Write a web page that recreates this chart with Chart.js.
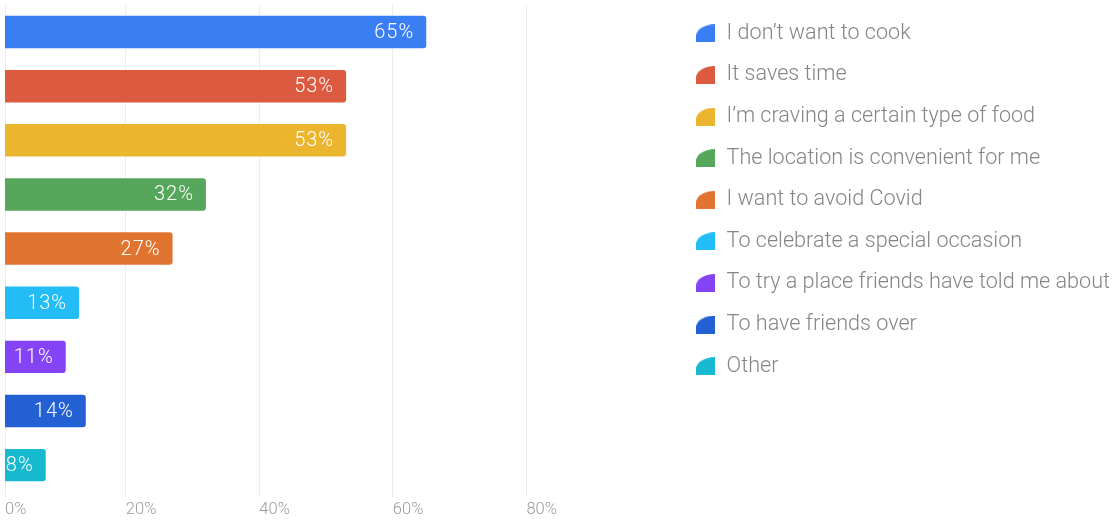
<!DOCTYPE html>
<html>
<head>
<meta charset="utf-8">
<script src="https://cdn.jsdelivr.net/npm/chart.js@4.4.1/dist/chart.umd.min.js"></script>
<style>
  html, body { margin: 0; padding: 0; background: #fff; }
</style>
</head>
<body>
<canvas id="reasonsChart" width="1114" height="523"></canvas>
<script>
const reasons = [
    'I don\u2019t want to cook',
    'It saves time',
    'I\u2019m craving a certain type of food',
    'The location is convenient for me',
    'I want to avoid Covid',
    'To celebrate a special occasion',
    'To try a place friends have told me about',
    'To have friends over',
    'Other'
];
const shares = [65, 53, 53, 32, 27, 13, 11, 14, 8];
const barColors = ['#3a7ef3', '#dc5a40', '#ecb52e', '#56a65b', '#e27432', '#22bdf6', '#8444f6', '#2260d4', '#17b9d0'];
const gridSteps = [0, 20, 40, 60, 80];

// the axis starts a little right of zero, the first gridline still reads 0%
const axisStart = 1.9;
const axisEnd = 102.3;

// legend marker: square with a big rounded top-left corner
function makeIcon(color) {
    const c = document.createElement('canvas');
    c.width = 19;
    c.height = 18;
    const g = c.getContext('2d');
    g.fillStyle = color;
    g.beginPath();
    g.moveTo(0, 18);
    g.lineTo(19, 18);
    g.lineTo(19, 0);
    g.ellipse(19, 12, 19, 12, 0, -Math.PI / 2, Math.PI, true);
    g.closePath();
    g.fill();
    return c;
}
const legendIcons = barColors.map(makeIcon);

// percentage written inside the end of each bar
const barValueLabels = {
    id: 'barValueLabels',
    afterDatasetsDraw(chart) {
        const ctx = chart.ctx;
        const meta = chart.getDatasetMeta(0);
        ctx.save();
        ctx.font = '300 20px Roboto';
        ctx.letterSpacing = '1px';
        ctx.fillStyle = '#ffffff';
        ctx.textAlign = 'right';
        ctx.textBaseline = 'middle';
        meta.data.forEach((bar, i) => {
            ctx.fillText(shares[i] + '%', bar.x - 12, bar.y + 1);
        });
        ctx.restore();
    }
};

new Chart(document.getElementById('reasonsChart'), {
    type: 'bar',
    data: {
        labels: reasons,
        datasets: [{
            data: shares,
            xAxisID: 'x',
            backgroundColor: barColors,
            borderWidth: 0,
            borderRadius: 3,
            borderSkipped: 'start',
            categoryPercentage: 0.6,
            barPercentage: 1
        }]
    },
    options: {
        indexAxis: 'y',
        responsive: false,
        animation: false,
        devicePixelRatio: 1,
        layout: { padding: { top: 2.5, left: 5, right: -6, bottom: 0 } },
        scales: {
            x: {
                type: 'linear',
                min: axisStart,
                max: axisEnd,
                afterBuildTicks: axis => {
                    axis.ticks = gridSteps.map((v, i) => ({ value: i === 0 ? axisStart : v }));
                },
                grid: { color: '#ededed', lineWidth: 1, tickLength: 5 },
                border: { display: false },
                ticks: {
                    align: 'start',
                    autoSkip: false,
                    maxRotation: 0,
                    padding: 3,
                    color: '#9b9b9b',
                    font: { family: 'Roboto', size: 16.5, weight: '300' },
                    callback: (value, index) => gridSteps[index] + '%'
                }
            },
            // empty strip above the plot so the bars sit a bit lower than the legend
            top: {
                type: 'linear',
                position: 'top',
                grid: { display: false },
                border: { display: false },
                ticks: { display: false },
                afterFit: axis => { axis.height = 2.5; }
            },
            y: {
                display: false
            }
        },
        plugins: {
            legend: {
                position: 'right',
                align: 'start',
                labels: {
                    usePointStyle: true,
                    pointStyleWidth: 20.5,
                    padding: 20,
                    color: '#858585',
                    font: { family: 'Roboto', size: 21.6, weight: '300' },
                    generateLabels: () => reasons.map((text, i) => ({
                        text: text,
                        pointStyle: legendIcons[i],
                        fillStyle: barColors[i],
                        strokeStyle: barColors[i],
                        fontColor: '#858585',
                        lineWidth: 0,
                        hidden: false,
                        index: i,
                        datasetIndex: 0
                    }))
                }
            },
            tooltip: { enabled: false }
        }
    },
    plugins: [barValueLabels]
});
</script>
</body>
</html>
